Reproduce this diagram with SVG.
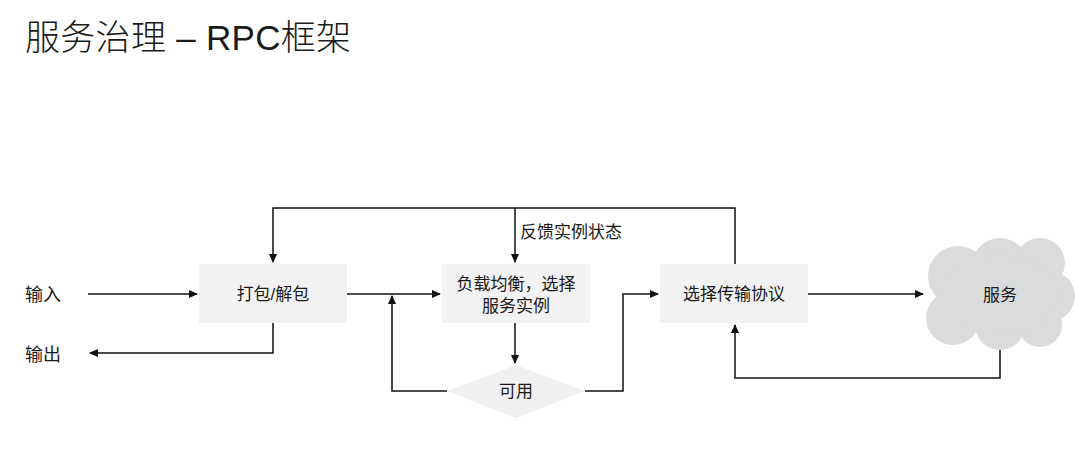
<svg xmlns="http://www.w3.org/2000/svg" width="1083" height="452" viewBox="0 0 1083 452">
<style>
text{font-family:"Liberation Sans","Noto Sans CJK SC",sans-serif;fill:#1a1a1a}
.lbl{font-size:17px;text-anchor:middle}
.box{fill:#f2f2f2}
.ln{fill:none;stroke:#111;stroke-width:1.5}
</style>
<defs>
<marker id="ah" markerWidth="9" markerHeight="8" refX="8" refY="4" orient="auto" markerUnits="userSpaceOnUse">
<path d="M0,0 L9,4 L0,8 Z" fill="#111"/>
</marker>
</defs>
<rect width="1083" height="452" fill="#fff"/>
<text x="25" y="50" style="font-size:35px;font-weight:300;letter-spacing:0.3px">服务治理 – RPC框架</text>

<g id="connectors">
<path class="ln" d="M88,294 H197" marker-end="url(#ah)"/>
<path class="ln" d="M273,323 V353 H90" marker-end="url(#ah)"/>
<path class="ln" d="M347,294 H440" marker-end="url(#ah)"/>
<path class="ln" d="M735,264 V208 H273 V262" marker-end="url(#ah)"/>
<path class="ln" d="M515,208 V262" marker-end="url(#ah)"/>
<path class="ln" d="M515,323 V363" marker-end="url(#ah)"/>
<path class="ln" d="M447,391 H392 V296" marker-end="url(#ah)"/>
<path class="ln" d="M585,391 H623 V294 H658" marker-end="url(#ah)"/>
<path class="ln" d="M808,294 H923" marker-end="url(#ah)"/>
<path class="ln" d="M1000,349 V378 H735 V325" marker-end="url(#ah)"/>
<text x="520" y="238" style="font-size:17px">反馈实例状态</text>
</g>

<g id="input"><text x="25" y="301" style="font-size:18px">输入</text></g>
<g id="output"><text x="25" y="361" style="font-size:18px">输出</text></g>

<g id="pack">
<rect class="box" x="199" y="264" width="148" height="59"/>
<text class="lbl" x="273" y="300">打包/解包</text>
</g>

<g id="lb">
<rect class="box" x="442" y="264" width="148" height="59"/>
<text class="lbl" x="516" y="290">负载均衡，选择</text>
<text class="lbl" x="516" y="312">服务实例</text>
</g>

<g id="proto">
<rect class="box" x="660" y="264" width="148" height="59"/>
<text class="lbl" x="734" y="300">选择传输协议</text>
</g>

<g id="avail">
<polygon points="516,365 585,391 516,418 447,391" fill="#f0f0f0"/>
<text class="lbl" x="516" y="397">可用</text>
</g>

<g id="service">
<g fill="#dadbdd">
<circle cx="958" cy="276" r="30"/>
<circle cx="1000" cy="266" r="28"/>
<circle cx="1040" cy="263" r="25"/>
<circle cx="1050" cy="296" r="25"/>
<circle cx="1040" cy="325" r="22"/>
<circle cx="1000" cy="325" r="25"/>
<circle cx="953" cy="318" r="27"/>
<ellipse cx="1000" cy="295" rx="58" ry="40"/>
</g>
<text class="lbl" x="1000" y="301">服务</text>
</g>
</svg>
